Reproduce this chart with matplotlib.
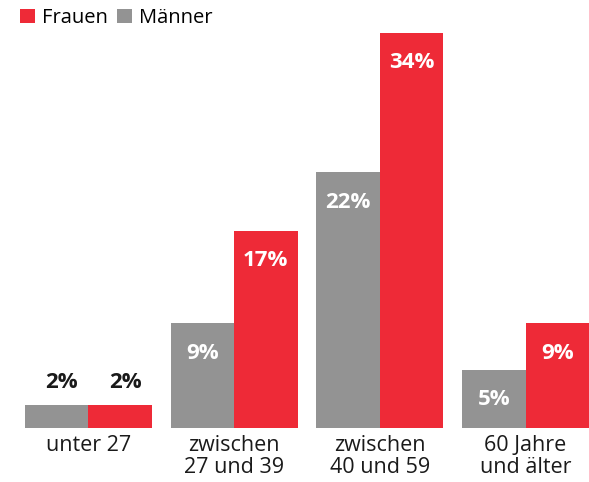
import matplotlib
matplotlib.use("Agg")
import matplotlib.pyplot as plt
import numpy as np

plt.rcParams['font.family'] = ['Open Sans', 'DejaVu Sans']

categories = ["unter 27", "zwischen\n27 und 39", "zwischen\n40 und 59", "60 Jahre\nund älter"]
maenner = [2, 9, 22, 5]
frauen = [2, 17, 34, 9]
labels_m = ["2%", "9%", "22%", "5%"]
labels_f = ["2%", "17%", "34%", "9%"]

RED = "#EE2A37"
GREY = "#939393"

fig = plt.figure(figsize=(5.89, 4.82), dpi=100)
ax = fig.add_axes([25/589, 54/482, 564/589, 395/482])

x = np.arange(len(categories))
w = 0.435
bm = ax.bar(x - w/2, maenner, width=w, color=GREY, label="Männer")
bf = ax.bar(x + w/2, frauen, width=w, color=RED, label="Frauen")

ax.set_xlim(-w, len(categories) - 1 + w)
ax.set_ylim(0, 34)

for bars, labs in ((bm, labels_m), (bf, labels_f)):
    for b, lab in zip(bars, labs):
        h = b.get_height()
        cx = b.get_x() + b.get_width()/2
        if h < 4:
            ax.annotate(lab, (cx, h), xytext=(5, 22), textcoords="offset pixels",
                        ha="center", va="center", fontsize=16, fontweight="bold",
                        color="#1a1a1a")
        else:
            ax.annotate(lab, (cx, h), xytext=(0, -30), textcoords="offset pixels",
                        ha="center", va="center", fontsize=16, fontweight="bold",
                        color="white")

ax.set_xticks(x)
ax.set_xticklabels(categories, fontsize=15.5, color="#1a1a1a", linespacing=1.08)
ax.tick_params(axis="x", length=0, pad=5)
ax.set_yticks([])
for s in ax.spines.values():
    s.set_visible(False)

leg = fig.legend(handles=[bf, bm], labels=["Frauen", "Männer"], loc="upper left",
                 bbox_to_anchor=(14/589, 1 - 2/482), ncol=2, frameon=False,
                 fontsize=14.5, handlelength=0.75, handleheight=0.75,
                 handletextpad=0.35, columnspacing=0.45, borderaxespad=0, borderpad=0.3)

fig.savefig("out.png", dpi=100)
